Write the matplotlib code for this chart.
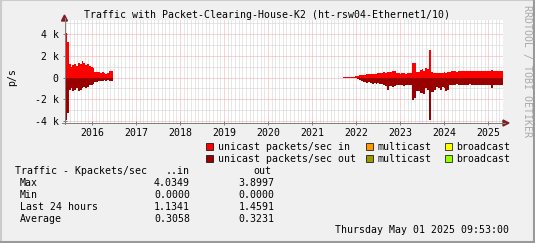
import matplotlib
matplotlib.use('Agg')
import matplotlib.pyplot as plt
from matplotlib.lines import Line2D
from matplotlib.patches import Polygon, Rectangle
from matplotlib.ticker import MultipleLocator, FuncFormatter
import numpy as np

# --- data (packets/sec, half-month steps) ---
step = 1 / 24
seg1_start = 2015.39
seg2_start = 2021.69

in_seg1 = [4050, 3300, 1250, 1000, 1150, 1200, 1100, 1300, 1200, 1500, 1300, 1150, 1200,
           1100, 1000, 850, 550, 500, 500, 400, 500, 450, 300, 450, 600, 600]
out_seg1 = [-3900, -3250, -1100, -1000, -1200, -1150, -950, -1200, -1150, -1000, -900, -1000, -850,
            -700, -650, -550, -450, -400, -300, -350, -300, -250, -300, -200, -300, -350]

in_seg2 = [50, 60, 40, 70, 80, 90, 70, 120, 170, 200, 220, 240, 250, 280, 300, 280, 300, 320,
           350, 380, 400, 420, 480, 450, 500, 480, 520, 580, 560, 450, 380, 350, 380, 400, 350,
           380, 400, 450, 1370, 1300, 550, 500, 650, 750, 600, 900, 800, 2500, 500, 420, 400,
           420, 450, 420, 450, 480, 450, 480, 500,
           560, 600, 580, 550, 620, 600, 570, 590, 610, 560, 580, 600, 620, 590, 570, 600, 580,
           610, 600, 560, 590, 620, 650, 600, 580, 620, 610, 590, 600]
out_seg2 = [-40, -50, -30, -40, -50, -40, -60, -80, -150, -250, -300, -400, -450, -500, -450,
            -500, -550, -500, -550, -500, -550, -600, -700, -800, -1150, -750, -800, -850, -750,
            -700, -650, -700, -650, -750, -650, -700, -650, -700, -2100, -1900, -1200, -1250,
            -1450, -1400, -1500, -1000, -1100, -3850, -1300, -1300, -1100, -900, -1000, -1150,
            -900, -1000, -1200, -1150, -700,
            -650, -700, -650, -620, -680, -700, -640, -660, -700, -650, -620, -680, -660, -700,
            -650, -640, -690, -660, -650, -700, -680, -650, -1000, -700, -660, -680, -650, -700,
            -680]

years = list(range(2016, 2026))
y_ticks = [-4000, -2000, 0, 2000, 4000]

stats_rows = ['Max', 'Min', 'Last 24 hours', 'Average']
stats_in = ['4.0349', '0.0000', '1.1341', '0.3058']
stats_out = ['3.8997', '0.0000', '1.4591', '0.3231']

legend_rows = [
    [('#FF0000', 'unicast packets/sec in'), ('#FF9900', 'multicast'), ('#FFFF00', 'broadcast')],
    [('#990000', 'unicast packets/sec out'), ('#999900', 'multicast'), ('#99FF00', 'broadcast')],
]

# --- figure ---
W, H = 535, 243
FONT = 'DejaVu Sans Mono'
FS = 7.1
plt.rcParams['font.family'] = FONT


def fx(x):
    return x / W


def fy(y):
    return 1 - y / H


fig = plt.figure(figsize=(W / 100, H / 100), dpi=100, facecolor='#F0F0F0')
ax = fig.add_axes([fx(65), fy(123), (503 - 65) / W, (123 - 20) / H])
ax.set_facecolor('white')

for start, vin, vout in [(seg1_start, in_seg1, out_seg1), (seg2_start, in_seg2, out_seg2)]:
    edges = start + np.arange(len(vin) + 1) * step
    ax.stairs(vin, edges, fill=True, color='#FF0000', baseline=0, zorder=2)
    edges = start + np.arange(len(vout) + 1) * step
    ax.stairs(vout, edges, fill=True, color='#990000', baseline=0, zorder=2)

ax.set_xlim(2015.39, 2025.33)
ax.set_ylim(-4170, 5280)

ax.xaxis.set_major_locator(MultipleLocator(1))
ax.xaxis.set_minor_locator(MultipleLocator(1 / 12))
ax.set_xticks(years)
ax.set_xticklabels([str(y) for y in years])
ax.set_yticks(y_ticks)
ax.yaxis.set_minor_locator(MultipleLocator(1000))
ax.yaxis.set_major_formatter(FuncFormatter(
    lambda v, p: '0' if v == 0 else f'{int(v / 1000)} k'))

ax.set_axisbelow(True)
ax.grid(which='major', color='#F4A8A8', linestyle=(0, (1, 1)), linewidth=0.72, zorder=0)
ax.grid(which='minor', color='#D0D0D0', linestyle=(0, (1, 1)), linewidth=0.72, zorder=0)

ax.tick_params(which='major', direction='inout', length=3, width=0.72, color='#808080',
               labelsize=FS, pad=2)
ax.tick_params(which='minor', length=0)
ax.tick_params(axis='y', pad=3)
for s in ax.spines.values():
    s.set_visible(False)

# axes lines and arrows
fig.add_artist(Line2D([fx(64.5), fx(64.5)], [fy(124), fy(18)], color='#808080', lw=0.72))
fig.add_artist(Line2D([fx(62), fx(505)], [fy(123), fy(123)], color='#808080', lw=0.72))
fig.add_artist(Polygon([[fx(61.5), fy(21)], [fx(67.5), fy(21)], [fx(64.5), fy(15)]],
                       closed=True, color='#802020'))
fig.add_artist(Polygon([[fx(503), fy(120)], [fx(503), fy(126)], [fx(509), fy(123)]],
                       closed=True, color='#802020'))

# titles
fig.text(0.5, fy(15), 'Traffic with Packet-Clearing-House-K2 (ht-rsw04-Ethernet1/10)',
         ha='center', va='center', fontsize=FS, color='black')
fig.text(fx(12), fy(77), 'p/s', rotation=90, ha='center', va='center', fontsize=FS)
fig.text(fx(527), fy(5), 'RRDTOOL / TOBI OETIKER', rotation=270, ha='center', va='top',
         fontsize=FS, color='#AAAAAA')

# legend
box_x = [205.5, 366, 444.5]
text_x = [218, 378, 456.5]
for row, y in zip(legend_rows, [146.7, 158.7]):
    for (col, label), bx, tx in zip(row, box_x, text_x):
        fig.add_artist(Rectangle((fx(bx), fy(y + 3.5)), 7 / W, 7 / H, facecolor=col,
                                 edgecolor='black', lw=0.5))
        fig.text(fx(tx), fy(y), label, ha='left', va='center', fontsize=FS)

# stats table
fig.text(fx(15), fy(170.7), 'Traffic - Kpackets/sec', ha='left', va='center', fontsize=FS)
fig.text(fx(190), fy(170.7), '..in', ha='right', va='center', fontsize=FS)
fig.text(fx(271), fy(170.7), 'out', ha='right', va='center', fontsize=FS)
for i, (lab, vi, vo) in enumerate(zip(stats_rows, stats_in, stats_out)):
    yy = 182.7 + 12 * i
    fig.text(fx(20), fy(yy), lab, ha='left', va='center', fontsize=FS)
    fig.text(fx(190), fy(yy), vi, ha='right', va='center', fontsize=FS)
    fig.text(fx(274.5), fy(yy), vo, ha='right', va='center', fontsize=FS)

fig.text(fx(509), fy(230), 'Thursday May 01 2025 09:53:00', ha='right', va='center', fontsize=FS)

# image border shading
fig.add_artist(Line2D([0, 1], [fy(0.5), fy(0.5)], color='#CBCBCB', lw=1.5))
fig.add_artist(Line2D([fx(0.5), fx(0.5)], [0, 1], color='#CBCBCB', lw=1.5))
fig.add_artist(Line2D([0, 1], [fy(242), fy(242)], color='#999999', lw=1.5))
fig.add_artist(Line2D([fx(534), fx(534)], [0, 1], color='#999999', lw=1.5))

fig.savefig('out.png', dpi=100, facecolor=fig.get_facecolor())
